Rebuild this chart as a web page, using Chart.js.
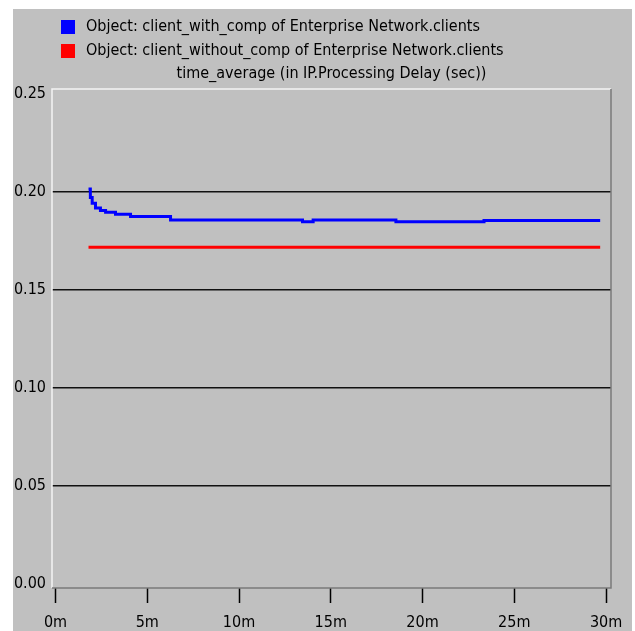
<!DOCTYPE html>
<html>
<head>
<meta charset="utf-8">
<script src="https://cdn.jsdelivr.net/npm/chart.js@4"></script>
<style>
html,body{margin:0;padding:0;background:#fff;}
canvas{display:block;}
</style>
</head>
<body>
<canvas id="c" width="635" height="631"></canvas>
<script>
// ---- data ----
const seriesNames = [
  "Object: client_with_comp of Enterprise Network.clients",
  "Object: client_without_comp of Enterprise Network.clients"
];
const subtitle = "time_average (in IP.Processing Delay (sec))";
const blueTime  = [1.80, 1.90, 2.00, 2.18, 2.45, 2.73, 3.27, 4.09, 6.27, 13.46, 14.04, 18.55, 23.35, 29.68];
const blueValue = [0.2014, 0.1970, 0.1941, 0.1916, 0.1904, 0.1895, 0.1885, 0.1873, 0.1856, 0.1846, 0.1856, 0.1846, 0.1853, 0.1853];
const redTime   = [1.80, 29.68];
const redValue  = [0.1716, 0.1716];
const xTickValues = [0, 5, 10, 15, 20, 25, 30];
const yTickValues = [0, 0.05, 0.10, 0.15, 0.20, 0.25];
const colors = ["#0000ff", "#ff0000"];

const FONT = "'Liberation Sans Narrow', 'DejaVu Sans Condensed', 'Liberation Sans', sans-serif";

const toXY = (ts, vs) => ts.map((t, i) => ({x: t, y: vs[i]}));

const framePlugin = {
  id: 'frame',
  beforeDraw(chart) {
    const c = chart.ctx;
    c.save();
    c.fillStyle = '#ffffff';
    c.fillRect(0, 0, chart.width, chart.height);
    c.fillStyle = '#c0c0c0';
    c.fillRect(13, 9, 619, 622);
    c.restore();
  },
  afterDatasetsDraw(chart) {
    const a = chart.chartArea;
    const c = chart.ctx;
    c.save();
    c.lineWidth = 1.5;
    c.strokeStyle = '#f4f4f4';
    c.beginPath();
    c.moveTo(a.left, a.bottom); c.lineTo(a.left, a.top); c.lineTo(a.right, a.top);
    c.stroke();
    c.strokeStyle = '#7a7a7a';
    c.beginPath();
    c.moveTo(a.right, a.top); c.lineTo(a.right, a.bottom); c.lineTo(a.left, a.bottom);
    c.stroke();
    c.restore();
  },
  afterDraw(chart) {
    const c = chart.ctx;
    const a = chart.chartArea;
    c.save();
    c.font = '16px ' + FONT;
    c.textBaseline = 'middle';
    const rows = [27, 51];
    seriesNames.forEach((n, i) => {
      c.fillStyle = colors[i];
      c.fillRect(61, rows[i] - 7, 14, 14);
      c.fillStyle = '#000';
      c.textAlign = 'left';
      c.fillText(n, 86, rows[i]);
    });
    c.textAlign = 'center';
    c.fillText(subtitle, (a.left + a.right) / 2, 74);
    c.restore();
  }
};

new Chart(document.getElementById('c'), {
  type: 'line',
  data: {
    datasets: [
      { label: seriesNames[0], data: toXY(blueTime, blueValue), borderColor: colors[0],
        borderWidth: 3, pointRadius: 0, stepped: 'before', fill: false },
      { label: seriesNames[1], data: toXY(redTime, redValue), borderColor: colors[1],
        borderWidth: 3, pointRadius: 0, fill: false }
    ]
  },
  options: {
    responsive: false,
    animation: false,
    devicePixelRatio: 1,
    layout: { padding: { left: 0, top: 89, right: 24, bottom: 0 } },
    plugins: { legend: { display: false }, tooltip: { enabled: false }, title: { display: false } },
    scales: {
      x: {
        type: 'linear',
        min: -0.19, max: 30.27,
        afterBuildTicks: s => { s.ticks = xTickValues.map(v => ({value: v})); },
        afterFit: s => { s.height = 43; },
        border: { display: false },
        grid: { drawOnChartArea: false, drawTicks: true, tickLength: 15, tickColor: '#000', tickWidth: 1.5 },
        ticks: { color: '#000', font: { family: FONT, size: 16 }, padding: 10, maxRotation: 0,
                 callback: v => v + 'm' }
      },
      y: {
        min: -0.002, max: 0.2523,
        afterBuildTicks: s => { s.ticks = yTickValues.map(v => ({value: v})); },
        afterFit: s => { s.width = 52; },
        border: { display: false },
        grid: { drawTicks: false, lineWidth: 1.5,
                color: ctx => (ctx.tick && (ctx.tick.value === 0 || ctx.tick.value === 0.25)) ? 'rgba(0,0,0,0)' : '#111' },
        ticks: { color: '#000', font: { family: FONT, size: 16 }, padding: 6,
                 callback: v => Number(v).toFixed(2) }
      }
    }
  },
  plugins: [framePlugin]
});
</script>
</body>
</html>
